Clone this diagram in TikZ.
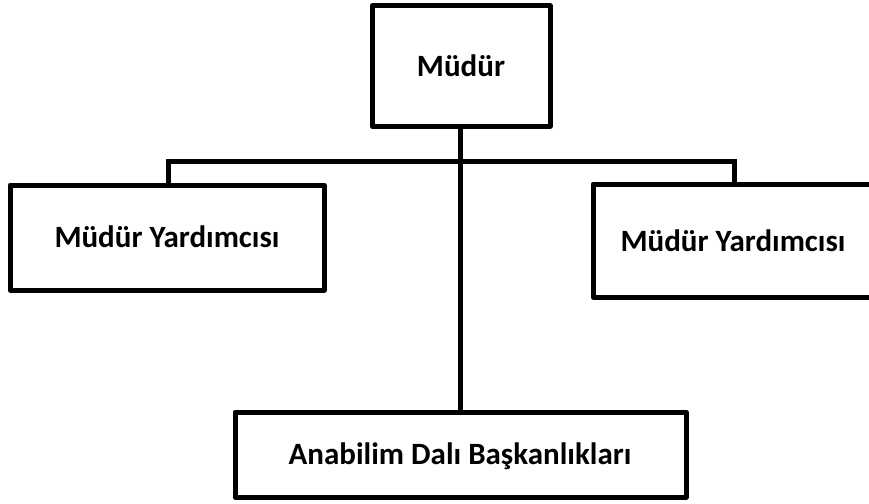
\documentclass[tikz,border=0pt]{standalone}
\usepackage{fontspec}
\setmainfont{Carlito}
\begin{document}
\begin{tikzpicture}[x=1pt,y=-1pt,
  orgbox/.style={draw=black,line width=5pt,fill=white,line join=round},
  orgtext/.style={font=\fontsize{31}{36}\selectfont\bfseries,inner sep=0pt,anchor=center},
  link/.style={draw=black,line width=5pt}]
\useasboundingbox[fill=white] (0,0) rectangle (869,503);
% boxes
\draw[orgbox] (372,6) rectangle (550,126);
\draw[orgbox] (10,185) rectangle (324,290);
\draw[orgbox] (593,184) rectangle (880,297);
\draw[orgbox] (235,412) rectangle (686,497);
\coordinate (top) at (460,126);
\coordinate (bot) at (460,412);
\coordinate (jl) at (168,161);
\coordinate (jr) at (734,161);
\coordinate (lt) at (168,185);
\coordinate (rt) at (734,184);
\node[orgtext] (m) at (461,66) {Müdür};
\node[orgtext] (ly) at (167,237) {Müdür Yardımcısı};
\node[orgtext] (ry) at (733,241) {Müdür Yardımcısı};
\node[orgtext] (ab) at (460,456) {Anabilim Dalı Başkanlıkları};
% connectors
\draw[link] (lt) -- (jl) -- (jr) -- (rt);
\draw[link] (top) -- (bot);
\end{tikzpicture}
\end{document}
